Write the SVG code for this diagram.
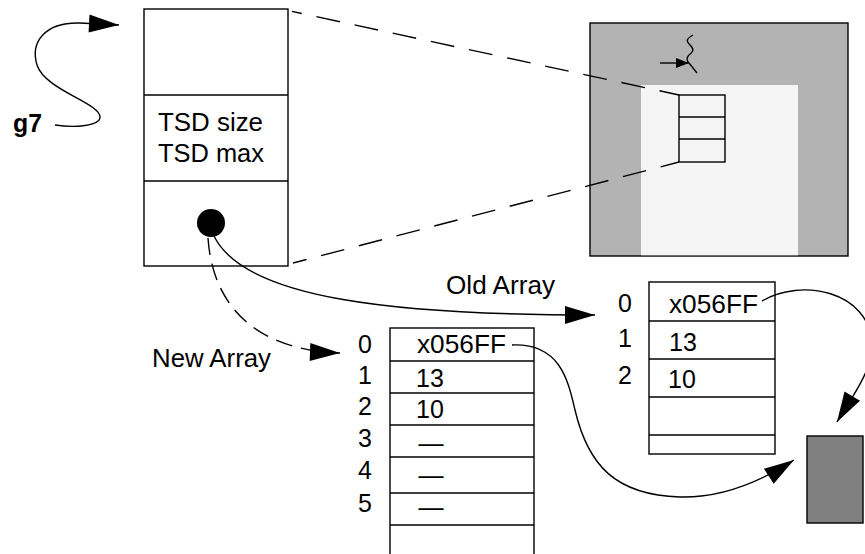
<svg xmlns="http://www.w3.org/2000/svg" width="865" height="554" viewBox="0 0 865 554">
  <style>
    .box { fill: #ffffff; stroke: #000; stroke-width: 1.4; }
    .ln { fill: none; stroke: #000; stroke-width: 1.4; }
    .conn { fill: none; stroke: #000; stroke-width: 1.4; }
    .dash { stroke-dasharray: 24 15; }
    .dash2 { stroke-dasharray: 17 9; }
    .t { font-family: "Liberation Sans", Arial, Helvetica, sans-serif; font-size: 25px; fill: #000; }
    .idx { text-anchor: middle; }
  </style>
  <defs>
    <marker id="arr" markerUnits="userSpaceOnUse" markerWidth="31" markerHeight="18" refX="30" refY="9" orient="auto" overflow="visible">
      <path d="M0,0 L30,9 L0,18 Z" fill="#000" stroke="none"/>
    </marker>
    <marker id="arrs" markerUnits="userSpaceOnUse" markerWidth="13" markerHeight="10" refX="13" refY="5" orient="auto" overflow="visible">
      <path d="M0,0 L13,5 L0,10 Z" fill="#000" stroke="none"/>
    </marker>
  </defs>

  <!-- left TSD block -->
  <g id="tsd-block">
    <rect class="box" x="144" y="9" width="144" height="257"/>
    <line class="ln" x1="144" y1="95" x2="288" y2="95"/>
    <line class="ln" x1="144" y1="181" x2="288" y2="181"/>
    <text class="t" x="158" y="131" font-size="23" textLength="105" lengthAdjust="spacingAndGlyphs">TSD size</text>
    <text class="t" x="158" y="162" font-size="23" textLength="106" lengthAdjust="spacingAndGlyphs">TSD max</text>
    <circle cx="211" cy="223" r="14" fill="#000"/>
  </g>

  <!-- g7 label -->
  <g id="g7">
    <text class="t" x="13" y="132" font-size="21" font-weight="bold" textLength="29" lengthAdjust="spacingAndGlyphs">g7</text>
  </g>

  <!-- memory picture -->
  <g id="memory">
    <rect x="590" y="23" width="258" height="233" fill="#b3b3b3" stroke="#000" stroke-width="1.4"/>
    <rect x="641" y="85" width="157" height="170.3" fill="#f5f5f5"/>
    <rect x="679" y="95" width="46" height="67" fill="none" stroke="#000" stroke-width="1.4"/>
    <line class="ln" x1="679" y1="117" x2="725" y2="117"/>
    <line class="ln" x1="679" y1="139" x2="725" y2="139"/>
    <path class="ln" d="M693 35 C686 39 686 41 690 45 C694 49 694 51 689 55 C686 58 687 61 689 63 L697 73"/>
    <line class="ln" x1="660" y1="63" x2="689" y2="63" marker-end="url(#arrs)"/>
  </g>

  <!-- new array -->
  <g id="new-array">
    <rect class="box" x="390" y="328" width="144" height="240"/>
    <line class="ln" x1="390" y1="361" x2="534" y2="361"/>
    <line class="ln" x1="390" y1="393" x2="534" y2="393"/>
    <line class="ln" x1="390" y1="425" x2="534" y2="425"/>
    <line class="ln" x1="390" y1="457" x2="534" y2="457"/>
    <line class="ln" x1="390" y1="493" x2="534" y2="493"/>
    <line class="ln" x1="390" y1="525" x2="534" y2="525"/>
    <text class="t idx" x="365" y="353">0</text>
    <text class="t idx" x="365" y="384">1</text>
    <text class="t idx" x="365" y="415">2</text>
    <text class="t idx" x="365" y="447">3</text>
    <text class="t idx" x="365" y="479">4</text>
    <text class="t idx" x="365" y="512">5</text>
    <text class="t" x="417" y="353" textLength="89" lengthAdjust="spacingAndGlyphs">x056FF</text>
    <text class="t" x="416" y="387">13</text>
    <text class="t" x="416" y="418">10</text>
    <text class="t idx" x="431" y="452">—</text>
    <text class="t idx" x="431" y="484">—</text>
    <text class="t idx" x="431" y="516">—</text>
  </g>

  <!-- old array -->
  <g id="old-array">
    <rect class="box" x="649" y="282" width="126" height="172"/>
    <line class="ln" x1="649" y1="321" x2="775" y2="321"/>
    <line class="ln" x1="649" y1="359" x2="775" y2="359"/>
    <line class="ln" x1="649" y1="397" x2="775" y2="397"/>
    <line class="ln" x1="649" y1="435" x2="775" y2="435"/>
    <text class="t idx" x="625" y="312">0</text>
    <text class="t idx" x="625" y="347">1</text>
    <text class="t idx" x="625" y="384">2</text>
    <text class="t" x="669" y="313" textLength="89" lengthAdjust="spacingAndGlyphs">x056FF</text>
    <text class="t" x="669" y="351">13</text>
    <text class="t" x="668" y="388">10</text>
  </g>

  <!-- data block -->
  <g id="data-block">
    <rect x="807" y="436" width="56" height="87" fill="#808080" stroke="#000" stroke-width="1.4"/>
  </g>

  <!-- labels -->
  <g id="labels">
    <text class="t" x="446" y="294" textLength="109" lengthAdjust="spacingAndGlyphs">Old Array</text>
    <text class="t" x="152" y="367" textLength="119" lengthAdjust="spacingAndGlyphs">New Array</text>
  </g>

  <!-- connectors -->
  <g id="connectors">
    <path class="conn" d="M55 125 C75 128 100 126 100 117 C100 103 45 90 37 65 C30 42 45 22 80 23 L119 25" marker-end="url(#arr)"/>
    <line class="conn dash" x1="292" y1="11.4" x2="679" y2="95" stroke-dashoffset="14"/>
    <line class="conn dash" x1="293" y1="263" x2="679" y2="162" stroke-dashoffset="10"/>
    <path class="conn" d="M214 236 C245 300 400 315 595 315" marker-end="url(#arr)"/>
    <path class="conn dash2" d="M208 238 C212 300 250 350 340 353" marker-end="url(#arr)"/>
    <path class="conn" d="M512 345 C560 343 568 380 575 410 C588 465 615 495 680 497 C720 498 760 482 794 460" marker-end="url(#arr)"/>
    <path class="conn" d="M762 301 C800 278 870 290 872 345 C873 370 850 400 837 422" marker-end="url(#arr)"/>
  </g>
</svg>
